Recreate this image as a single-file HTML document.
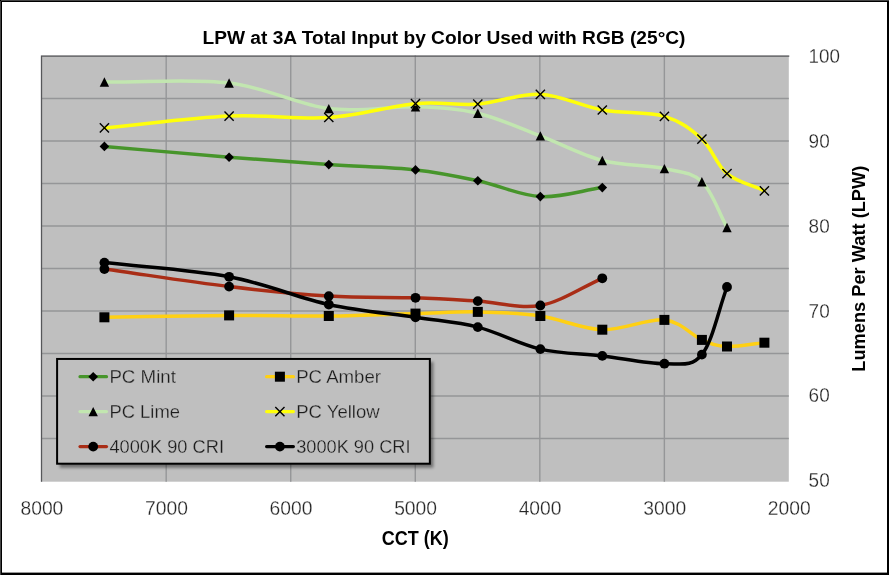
<!DOCTYPE html>
<html lang="en"><head><meta charset="utf-8"><title>LPW at 3A Total Input by Color Used with RGB (25°C)</title>
<style>html,body{margin:0;padding:0;background:#fff;overflow:hidden}svg{display:block}text{font-family:"Liberation Sans",sans-serif}.ax{font-size:20px;fill:#262626;stroke:#fff;stroke-width:.28px}.lg{font-size:19px;fill:#1c1c1c;stroke:#bfbfbf;stroke-width:.28px}.b{font-weight:bold;fill:#000}</style></head><body>
<svg width="889" height="575" viewBox="0 0 889 575">
<defs><filter id="sh" x="-5%" y="-10%" width="112%" height="125%"><feGaussianBlur stdDeviation="1.6"/></filter></defs>
<rect x="0" y="0" width="889" height="575" fill="#fff"/>
<rect x="1" y="1" width="887" height="573" fill="none" stroke="#000" stroke-width="2"/>
<rect x="1" y="572.6" width="887" height="2.4" fill="#000"/>
<path d="M0.5,1 V575 M1,0.5 H889" stroke="#444" stroke-width="1" fill="none"/>
<rect x="41.0" y="55.5" width="747.8" height="426.2" fill="#bfbfbf"/>
<path d="M41.0,438.50 H788.8 M41.0,396.00 H788.8 M41.0,353.50 H788.8 M41.0,311.00 H788.8 M41.0,268.50 H788.8 M41.0,226.00 H788.8 M41.0,183.50 H788.8 M41.0,141.00 H788.8 M41.0,98.50 H788.8 M166.18,55.5 V481.7 M290.73,55.5 V481.7 M415.27,55.5 V481.7 M539.82,55.5 V481.7 M664.36,55.5 V481.7" stroke="#959698" stroke-width="1.4" fill="none"/>
<path d="M41.0,481.7 V56.1 H788.8" stroke="#56575a" stroke-width="1.3" fill="none" transform="translate(0.5,0)"/>
<path d="M104.40,146.40 C145.97,150.00 191.70,154.17 229.10,157.20 C266.50,160.23 297.73,162.48 328.80,164.60 C359.87,166.72 390.67,167.22 415.50,169.90 C440.33,172.58 456.99,176.25 477.80,180.70 C498.61,185.15 519.60,195.45 540.35,196.60 C561.10,197.75 581.65,190.60 602.30,187.60" stroke="#47952b" stroke-width="3.5" fill="none" stroke-linecap="round" stroke-linejoin="round"/>
<path d="M104.40,141.60 L109.20,146.40 L104.40,151.20 L99.60,146.40Z" fill="#000"/>
<path d="M229.10,152.40 L233.90,157.20 L229.10,162.00 L224.30,157.20Z" fill="#000"/>
<path d="M328.80,159.80 L333.60,164.60 L328.80,169.40 L324.00,164.60Z" fill="#000"/>
<path d="M415.50,165.10 L420.30,169.90 L415.50,174.70 L410.70,169.90Z" fill="#000"/>
<path d="M477.80,175.90 L482.60,180.70 L477.80,185.50 L473.00,180.70Z" fill="#000"/>
<path d="M540.35,191.80 L545.15,196.60 L540.35,201.40 L535.55,196.60Z" fill="#000"/>
<path d="M602.30,182.80 L607.10,187.60 L602.30,192.40 L597.50,187.60Z" fill="#000"/>
<path d="M104.40,317.30 C145.97,316.67 191.70,315.62 229.10,315.40 C266.50,315.18 297.73,316.30 328.80,316.00 C359.87,315.70 390.67,314.28 415.50,313.60 C440.33,312.92 456.99,311.50 477.80,311.90 C498.61,312.30 519.60,313.03 540.35,316.00 C561.10,318.97 581.62,329.05 602.30,329.70 C622.97,330.35 647.80,318.20 664.40,319.90 C681.00,321.60 691.47,335.47 701.90,339.90 C712.33,344.33 716.58,346.03 727.00,346.50 C737.42,346.97 751.93,343.97 764.40,342.70" stroke="#ffd013" stroke-width="3.5" fill="none" stroke-linecap="round" stroke-linejoin="round"/>
<rect x="99.40" y="312.30" width="10.00" height="10.00" fill="#000"/>
<rect x="224.10" y="310.40" width="10.00" height="10.00" fill="#000"/>
<rect x="323.80" y="311.00" width="10.00" height="10.00" fill="#000"/>
<rect x="410.50" y="308.60" width="10.00" height="10.00" fill="#000"/>
<rect x="472.80" y="306.90" width="10.00" height="10.00" fill="#000"/>
<rect x="535.35" y="311.00" width="10.00" height="10.00" fill="#000"/>
<rect x="597.30" y="324.70" width="10.00" height="10.00" fill="#000"/>
<rect x="659.40" y="314.90" width="10.00" height="10.00" fill="#000"/>
<rect x="696.90" y="334.90" width="10.00" height="10.00" fill="#000"/>
<rect x="722.00" y="341.50" width="10.00" height="10.00" fill="#000"/>
<rect x="759.40" y="337.70" width="10.00" height="10.00" fill="#000"/>
<path d="M104.40,82.00 C145.97,82.33 191.70,78.57 229.10,83.00 C266.50,87.43 297.73,104.63 328.80,108.60 C359.87,112.57 390.67,106.03 415.50,106.80 C440.33,107.57 456.99,108.35 477.80,113.20 C498.61,118.05 519.60,128.02 540.35,135.90 C561.10,143.78 581.62,155.05 602.30,160.50 C622.97,165.95 647.80,165.05 664.40,168.60 C681.00,172.15 691.47,171.98 701.90,181.80 C712.33,191.62 718.63,212.27 727.00,227.50" stroke="#c2e6b0" stroke-width="3.5" fill="none" stroke-linecap="round" stroke-linejoin="round"/>
<path d="M104.40,77.30 L109.10,86.70 L99.70,86.70Z" fill="#000"/>
<path d="M229.10,78.30 L233.80,87.70 L224.40,87.70Z" fill="#000"/>
<path d="M328.80,103.90 L333.50,113.30 L324.10,113.30Z" fill="#000"/>
<path d="M415.50,102.10 L420.20,111.50 L410.80,111.50Z" fill="#000"/>
<path d="M477.80,108.50 L482.50,117.90 L473.10,117.90Z" fill="#000"/>
<path d="M540.35,131.20 L545.05,140.60 L535.65,140.60Z" fill="#000"/>
<path d="M602.30,155.80 L607.00,165.20 L597.60,165.20Z" fill="#000"/>
<path d="M664.40,163.90 L669.10,173.30 L659.70,173.30Z" fill="#000"/>
<path d="M701.90,177.10 L706.60,186.50 L697.20,186.50Z" fill="#000"/>
<path d="M727.00,222.80 L731.70,232.20 L722.30,232.20Z" fill="#000"/>
<path d="M104.40,127.90 C145.97,123.97 191.70,117.83 229.10,116.10 C266.50,114.37 297.73,119.57 328.80,117.50 C359.87,115.43 390.67,105.93 415.50,103.70 C440.33,101.47 456.99,105.67 477.80,104.10 C498.61,102.53 519.60,93.32 540.35,94.30 C561.10,95.28 581.62,106.32 602.30,110.00 C622.97,113.68 647.80,111.53 664.40,116.40 C681.00,121.27 691.47,129.67 701.90,139.20 C712.33,148.73 716.58,165.00 727.00,173.60 C737.42,182.20 751.93,185.07 764.40,190.80" stroke="#ffff0a" stroke-width="3.5" fill="none" stroke-linecap="round" stroke-linejoin="round"/>
<path d="M99.80,123.30 L109.00,132.50 M109.00,123.30 L99.80,132.50" stroke="#000" stroke-width="1.4" fill="none"/>
<path d="M224.50,111.50 L233.70,120.70 M233.70,111.50 L224.50,120.70" stroke="#000" stroke-width="1.4" fill="none"/>
<path d="M324.20,112.90 L333.40,122.10 M333.40,112.90 L324.20,122.10" stroke="#000" stroke-width="1.4" fill="none"/>
<path d="M410.90,99.10 L420.10,108.30 M420.10,99.10 L410.90,108.30" stroke="#000" stroke-width="1.4" fill="none"/>
<path d="M473.20,99.50 L482.40,108.70 M482.40,99.50 L473.20,108.70" stroke="#000" stroke-width="1.4" fill="none"/>
<path d="M535.75,89.70 L544.95,98.90 M544.95,89.70 L535.75,98.90" stroke="#000" stroke-width="1.4" fill="none"/>
<path d="M597.70,105.40 L606.90,114.60 M606.90,105.40 L597.70,114.60" stroke="#000" stroke-width="1.4" fill="none"/>
<path d="M659.80,111.80 L669.00,121.00 M669.00,111.80 L659.80,121.00" stroke="#000" stroke-width="1.4" fill="none"/>
<path d="M697.30,134.60 L706.50,143.80 M706.50,134.60 L697.30,143.80" stroke="#000" stroke-width="1.4" fill="none"/>
<path d="M722.40,169.00 L731.60,178.20 M731.60,169.00 L722.40,178.20" stroke="#000" stroke-width="1.4" fill="none"/>
<path d="M759.80,186.20 L769.00,195.40 M769.00,186.20 L759.80,195.40" stroke="#000" stroke-width="1.4" fill="none"/>
<path d="M104.40,269.00 C145.97,274.87 191.70,282.08 229.10,286.60 C266.50,291.12 297.73,294.23 328.80,296.10 C359.87,297.97 390.67,296.97 415.50,297.80 C440.33,298.63 456.99,299.82 477.80,301.10 C498.61,302.38 519.60,309.30 540.35,305.50 C561.10,301.70 581.65,287.37 602.30,278.30" stroke="#a92d16" stroke-width="3.5" fill="none" stroke-linecap="round" stroke-linejoin="round"/>
<circle cx="104.40" cy="269.00" r="4.90" fill="#000"/>
<circle cx="229.10" cy="286.60" r="4.90" fill="#000"/>
<circle cx="328.80" cy="296.10" r="4.90" fill="#000"/>
<circle cx="415.50" cy="297.80" r="4.90" fill="#000"/>
<circle cx="477.80" cy="301.10" r="4.90" fill="#000"/>
<circle cx="540.35" cy="305.50" r="4.90" fill="#000"/>
<circle cx="602.30" cy="278.30" r="4.90" fill="#000"/>
<path d="M104.40,262.60 C145.97,267.33 191.70,269.82 229.10,276.80 C266.50,283.78 297.73,297.75 328.80,304.50 C359.87,311.25 390.67,313.53 415.50,317.30 C440.33,321.07 456.99,321.80 477.80,327.10 C498.61,332.40 519.60,344.30 540.35,349.10 C561.10,353.90 581.62,353.47 602.30,355.90 C622.97,358.33 647.80,363.92 664.40,363.70 C681.00,363.48 691.47,367.38 701.90,354.60 C712.33,341.82 718.63,309.53 727.00,287.00" stroke="#000000" stroke-width="3.5" fill="none" stroke-linecap="round" stroke-linejoin="round"/>
<circle cx="104.40" cy="262.60" r="4.90" fill="#000"/>
<circle cx="229.10" cy="276.80" r="4.90" fill="#000"/>
<circle cx="328.80" cy="304.50" r="4.90" fill="#000"/>
<circle cx="415.50" cy="317.30" r="4.90" fill="#000"/>
<circle cx="477.80" cy="327.10" r="4.90" fill="#000"/>
<circle cx="540.35" cy="349.10" r="4.90" fill="#000"/>
<circle cx="602.30" cy="355.90" r="4.90" fill="#000"/>
<circle cx="664.40" cy="363.70" r="4.90" fill="#000"/>
<circle cx="701.90" cy="354.60" r="4.90" fill="#000"/>
<circle cx="727.00" cy="287.00" r="4.90" fill="#000"/>
<rect x="59.6" y="361.95" width="373.75" height="105.75" fill="#000" opacity="0.42" filter="url(#sh)"/>
<rect x="57.1" y="358.95" width="372.75" height="104.75" fill="#bfbfbf" stroke="#000" stroke-width="2"/>
<path d="M80.0,376.7 H106.5" stroke="#47952b" stroke-width="3.2" stroke-linecap="round"/>
<path d="M93.20,371.90 L98.00,376.70 L93.20,381.50 L88.40,376.70Z" fill="#000"/>
<text class="lg" x="109.4" y="383.4" textLength="66.5" lengthAdjust="spacingAndGlyphs">PC Mint</text>
<path d="M80.0,411.6 H106.5" stroke="#c2e6b0" stroke-width="3.2" stroke-linecap="round"/>
<path d="M93.20,406.90 L97.90,416.30 L88.50,416.30Z" fill="#000"/>
<text class="lg" x="109.4" y="418.3" textLength="70.6" lengthAdjust="spacingAndGlyphs">PC Lime</text>
<path d="M80.0,446.6 H106.5" stroke="#a92d16" stroke-width="3.2" stroke-linecap="round"/>
<circle cx="93.20" cy="446.60" r="4.90" fill="#000"/>
<text class="lg" x="109.4" y="453.3" textLength="114.6" lengthAdjust="spacingAndGlyphs">4000K 90 CRI</text>
<path d="M266.59999999999997,376.7 H293.40000000000003" stroke="#ffd013" stroke-width="3.2" stroke-linecap="round"/>
<rect x="274.90" y="371.70" width="10.00" height="10.00" fill="#000"/>
<text class="lg" x="296.2" y="383.4" textLength="84.8" lengthAdjust="spacingAndGlyphs">PC Amber</text>
<path d="M266.59999999999997,411.6 H293.40000000000003" stroke="#ffff0a" stroke-width="3.2" stroke-linecap="round"/>
<path d="M275.30,407.00 L284.50,416.20 M284.50,407.00 L275.30,416.20" stroke="#000" stroke-width="1.4" fill="none"/>
<text class="lg" x="296.2" y="418.3" textLength="83.4" lengthAdjust="spacingAndGlyphs">PC Yellow</text>
<path d="M266.59999999999997,446.6 H293.40000000000003" stroke="#000000" stroke-width="3.2" stroke-linecap="round"/>
<circle cx="279.90" cy="446.60" r="4.90" fill="#000"/>
<text class="lg" x="296.2" y="453.3" textLength="114.3" lengthAdjust="spacingAndGlyphs">3000K 90 CRI</text>
<text class="b" x="444.0" y="43.9" font-size="19.1" text-anchor="middle" textLength="483" lengthAdjust="spacingAndGlyphs">LPW at 3A Total Input by Color Used with RGB (25°C)</text>
<text class="ax" x="41.9" y="515.3" text-anchor="middle" textLength="42.9" lengthAdjust="spacingAndGlyphs">8000</text>
<text class="ax" x="166.5" y="515.3" text-anchor="middle" textLength="42.9" lengthAdjust="spacingAndGlyphs">7000</text>
<text class="ax" x="291.0" y="515.3" text-anchor="middle" textLength="42.9" lengthAdjust="spacingAndGlyphs">6000</text>
<text class="ax" x="415.6" y="515.3" text-anchor="middle" textLength="42.9" lengthAdjust="spacingAndGlyphs">5000</text>
<text class="ax" x="540.1" y="515.3" text-anchor="middle" textLength="42.9" lengthAdjust="spacingAndGlyphs">4000</text>
<text class="ax" x="664.7" y="515.3" text-anchor="middle" textLength="42.9" lengthAdjust="spacingAndGlyphs">3000</text>
<text class="ax" x="789.2" y="515.3" text-anchor="middle" textLength="42.9" lengthAdjust="spacingAndGlyphs">2000</text>
<text class="ax" x="808.6" y="62.8" textLength="31.4" lengthAdjust="spacingAndGlyphs">100</text>
<text class="ax" x="808.6" y="147.7" textLength="21.1" lengthAdjust="spacingAndGlyphs">90</text>
<text class="ax" x="808.6" y="232.6" textLength="21.1" lengthAdjust="spacingAndGlyphs">80</text>
<text class="ax" x="808.6" y="317.5" textLength="21.1" lengthAdjust="spacingAndGlyphs">70</text>
<text class="ax" x="808.6" y="402.4" textLength="21.1" lengthAdjust="spacingAndGlyphs">60</text>
<text class="ax" x="808.6" y="487.3" textLength="21.1" lengthAdjust="spacingAndGlyphs">50</text>
<text class="b" x="415.2" y="544.6" font-size="19.7" text-anchor="middle" textLength="67" lengthAdjust="spacingAndGlyphs">CCT (K)</text>
<text class="b" font-size="19.2" text-anchor="middle" transform="translate(865.1,268.7) rotate(-90)" textLength="206" lengthAdjust="spacingAndGlyphs">Lumens Per Watt (LPW)</text>
</svg></body></html>
